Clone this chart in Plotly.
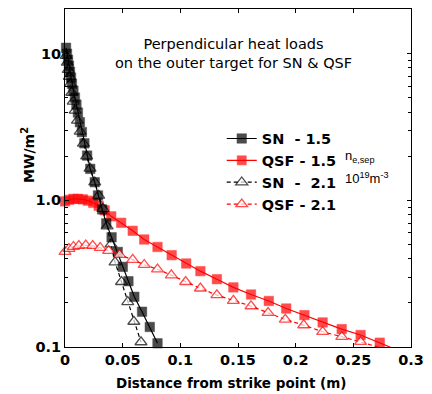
import plotly.graph_objects as go

# ---- data ----
sn15_x = [0.0009, 0.0017, 0.0026, 0.0034, 0.0043, 0.0052, 0.0060, 0.0073, 0.0086, 0.0099,
          0.0112, 0.0129, 0.0146, 0.0168, 0.0192, 0.0219, 0.0258, 0.0286, 0.0322, 0.0358,
          0.0404, 0.0458, 0.0501, 0.0550, 0.0601, 0.0668, 0.0735, 0.0802]
sn15_y = [10.98, 10.0, 9.1, 8.28, 7.54, 6.87, 6.25, 5.6, 5.02, 4.5,
          3.97, 3.41, 2.92, 2.45, 2.02, 1.64, 1.33, 1.08, 0.868, 0.697,
          0.56, 0.445, 0.352, 0.281, 0.220, 0.174, 0.137, 0.106]

qsf15_x = [0.0, 0.0034, 0.0073, 0.0112, 0.0155, 0.0198, 0.0245, 0.0292, 0.0344, 0.0401,
           0.0487, 0.0587, 0.0687, 0.0802, 0.0925, 0.1051, 0.1174, 0.1317, 0.1460, 0.1613,
           0.1767, 0.1918, 0.2076, 0.2234, 0.2399, 0.2563, 0.2729, 0.2878]
qsf15_y = [0.984, 1.008, 1.024, 1.024, 1.016, 0.995, 0.962, 0.918, 0.855, 0.778,
           0.703, 0.620, 0.541, 0.481, 0.423, 0.371, 0.329, 0.290, 0.255, 0.228,
           0.206, 0.183, 0.165, 0.147, 0.1325, 0.1207, 0.107, 0.0955]

sn21_x = [0.0010, 0.0020, 0.0029, 0.0038, 0.0047, 0.0059, 0.0071, 0.0088, 0.0108, 0.0132,
          0.0160, 0.0188, 0.0217, 0.0258, 0.0292, 0.0329, 0.0365, 0.0399, 0.0434, 0.0490,
          0.0544, 0.0597, 0.0659]
sn21_y = [9.7, 8.7, 7.78, 6.98, 6.25, 5.43, 4.72, 4.1, 3.5, 2.95,
          2.44, 2.0, 1.65, 1.33, 1.08, 0.878, 0.666, 0.502, 0.379, 0.278,
          0.203, 0.149, 0.108]

qsf21_x = [0.0, 0.0034, 0.0073, 0.0120, 0.0180, 0.0240, 0.0305, 0.0378, 0.0473, 0.0587,
           0.0687, 0.0802, 0.0922, 0.1046, 0.1174, 0.1317, 0.1460, 0.1613, 0.1761, 0.1910,
           0.2070, 0.2234, 0.2400, 0.2563, 0.2729]
qsf21_y = [0.446, 0.468, 0.483, 0.490, 0.494, 0.490, 0.475, 0.453, 0.426, 0.394,
           0.364, 0.339, 0.309, 0.278, 0.251, 0.226, 0.207, 0.190, 0.171, 0.154,
           0.141, 0.127, 0.1175, 0.1086, 0.0992]

names = ["SN\u00a0\u00a0- 1.5", "QSF - 1.5", "SN\u00a0\u00a0-\u00a0\u00a02.1", "QSF - 2.1"]
x_ticks = [0, 0.05, 0.1, 0.15, 0.2, 0.25, 0.3]
x_ticklabels = ["0", "0.05", "0.1", "0.15", "0.2", "0.25", "0.3"]
y_ticks = [0.1, 1, 10]
y_ticklabels = ["0.1", "1.0", "10"]

YMIN = 0.1
BOLD = "DejaVu Sans"


def sizes(ys, s):
    return [s if v >= YMIN else 0 for v in ys]


fig = go.Figure()

fig.add_trace(go.Scatter(
    x=qsf15_x, y=qsf15_y, name=names[1], legendrank=2, mode="lines+markers",
    line=dict(color="#ff0000", width=1.2),
    marker=dict(symbol="square", size=sizes(qsf15_y, 9.5), color="#ff0000",
                line=dict(color="#ff0000", width=0.5)),
    cliponaxis=False))
fig.add_trace(go.Scatter(
    x=sn21_x, y=sn21_y, name=names[2], legendrank=3, mode="lines+markers",
    line=dict(color="black", width=1.2, dash="4px,3px"),
    marker=dict(symbol="triangle-up", size=sizes(sn21_y, 10.5), color="white",
                line=dict(color="black", width=1.3)),
    cliponaxis=False))
fig.add_trace(go.Scatter(
    x=sn15_x, y=sn15_y, name=names[0], legendrank=1, mode="lines+markers",
    line=dict(color="black", width=1.2),
    marker=dict(symbol="square", size=sizes(sn15_y, 9.5), color="black",
                line=dict(color="black", width=0.5)),
    cliponaxis=False))
fig.add_trace(go.Scatter(
    x=qsf21_x, y=qsf21_y, name=names[3], legendrank=4, mode="lines+markers",
    line=dict(color="#ff0000", width=1.2, dash="4px,3px"),
    marker=dict(symbol="triangle-up", size=sizes(qsf21_y, 10.5), color="white",
                line=dict(color="#ff0000", width=1.3)),
    cliponaxis=False))

axis_common = dict(showline=True, linecolor="black", linewidth=1, mirror="allticks",
                   ticks="inside", ticklen=4, tickcolor="black", showgrid=False, zeroline=False,
                   tickfont=dict(family=BOLD, size=14.5, color="black", weight="bold"))

fig.update_xaxes(range=[0, 0.3], tickvals=x_ticks, ticktext=x_ticklabels, **axis_common)
fig.update_yaxes(type="log", range=[-1, 1.305], tickvals=y_ticks, ticktext=y_ticklabels,
                 minor=dict(ticks="inside", ticklen=3, dtick="D1", tickcolor="black", showgrid=False),
                 **axis_common)

fig.update_layout(
    width=432, height=394,
    margin=dict(l=65, r=18, t=8, b=47),
    paper_bgcolor="white", plot_bgcolor="white",
    showlegend=True,
    legend=dict(x=0.453, y=0.664, xanchor="left", yanchor="top",
                bgcolor="rgba(0,0,0,0)", borderwidth=0, tracegroupgap=0,
                font=dict(family=BOLD, size=14.5, color="black", weight="bold"),
                itemwidth=30),
    annotations=[
        dict(text="Perpendicular heat loads<br>on the outer target for SN & QSF",
             xref="paper", yref="paper", x=0.487, y=(347 - 52.5) / 339,
             xanchor="center", yanchor="middle", showarrow=False,
             font=dict(family="DejaVu Sans", size=14.5, color="black"), align="center"),
        dict(text="MW/m<sup>2</sup>", xref="paper", yref="paper", x=(27 - 65) / 349,
             y=(347 - 154) / 339, xanchor="center", yanchor="middle",
             textangle=-90, showarrow=False,
             font=dict(family=BOLD, size=14, color="black", weight="bold")),
        dict(text="Distance from strike point (m)", xref="paper", yref="paper",
             x=(232.5 - 65) / 349, y=(347 - 383) / 339, xanchor="center", yanchor="middle",
             showarrow=False,
             font=dict(family=BOLD, size=13.5, color="black", weight="bold")),
        dict(text="n<sub>e,sep</sub>", xref="paper", yref="paper",
             x=(345 - 65) / 349, y=(347 - 156) / 339, xanchor="left", yanchor="middle",
             showarrow=False,
             font=dict(family="Liberation Sans", size=13, color="black")),
        dict(text="10<sup>19</sup>m<sup>-3</sup>", xref="paper", yref="paper",
             x=(345 - 65) / 349, y=(347 - 178) / 339, xanchor="left", yanchor="middle",
             showarrow=False,
             font=dict(family="Liberation Sans", size=13, color="black")),
    ],
)

fig.write_html("out.html")
